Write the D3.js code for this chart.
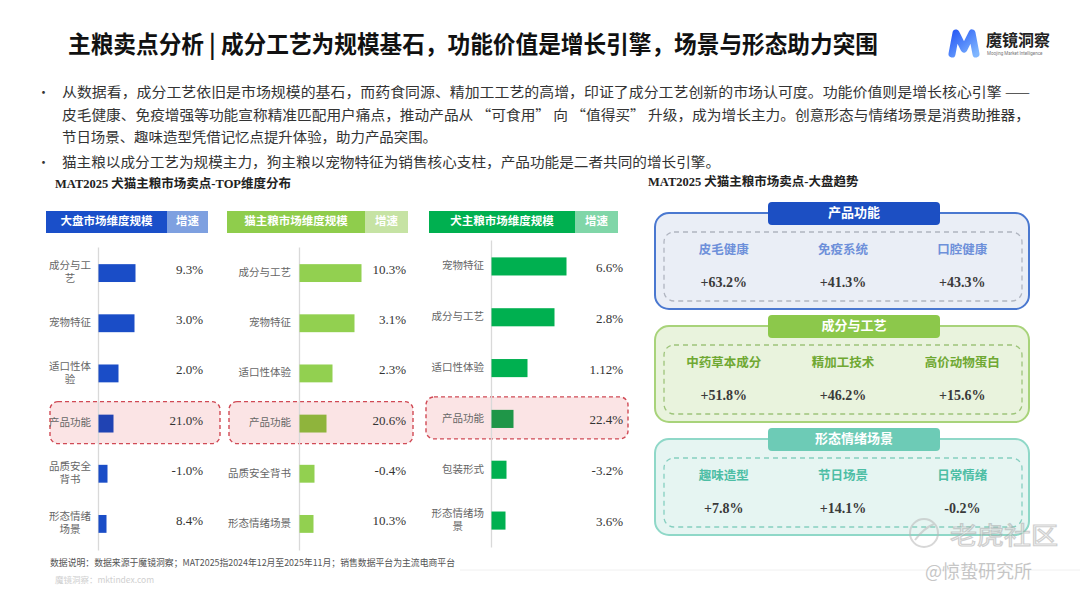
<!DOCTYPE html>
<html>
<head>
<meta charset="utf-8">
<script src="https://cdn.jsdelivr.net/npm/d3@7"></script>
<style>
  body { margin: 0; background: #fff; }
  svg { display: block; }
</style>
</head>
<body>
<svg id="chart" width="1080" height="596"></svg>
<script>
// ---- data ----
const totalCats = ["成分与工艺", "宠物特征", "适口性体验", "产品功能", "品质安全背书", "形态情绪场景"];
const totalSize = [18.5, 18, 10, 7.5, 4.5, 4];
const totalGrowth = [9.3, 3.0, 2.0, 21.0, -1.0, 8.4];

const catCats = ["成分与工艺", "宠物特征", "适口性体验", "产品功能", "品质安全背书", "形态情绪场景"];
const catSize = [31, 27.5, 16.5, 13.5, 7.5, 7];
const catGrowth = [10.3, 3.1, 2.3, 20.6, -0.4, 10.3];

const dogCats = ["宠物特征", "成分与工艺", "适口性体验", "产品功能", "包装形式", "形态情绪场景"];
const dogSize = [37.5, 31.5, 18, 11, 7.5, 7];
const dogGrowth = [6.6, 2.8, 1.12, 22.4, -3.2, 3.6];

const highlightCat = "产品功能";

const trendGroups = ["产品功能", "成分与工艺", "形态情绪场景"];
const trendItems = [
  ["皮毛健康", "免疫系统", "口腔健康"],
  ["中药草本成分", "精加工技术", "高价动物蛋白"],
  ["趣味造型", "节日场景", "日常情绪"]
];
const trendValues = [
  [63.2, 41.3, 43.3],
  [51.8, 46.2, 15.6],
  [7.8, 14.1, -0.2]
];

const bullets = [
  ["从数据看，成分工艺依旧是市场规模的基石，而药食同源、精加工工艺的高增，印证了成分工艺创新的市场认可度。功能价值则是增长核心引擎 ——",
   "皮毛健康、免疫增强等功能宣称精准匹配用户痛点，推动产品从 “可食用” 向 “值得买” 升级，成为增长主力。创意形态与情绪场景是消费助推器，",
   "节日场景、趣味造型凭借记忆点提升体验，助力产品突围。"],
  ["猫主粮以成分工艺为规模主力，狗主粮以宠物特征为销售核心支柱，产品功能是二者共同的增长引擎。"]
];

const CJK = "'Noto Sans CJK SC', sans-serif";
const SERIF = "'Liberation Serif', 'Noto Sans CJK SC', serif";

const pct = v => {
  const s = Math.abs(v * 10 - Math.round(v * 10)) < 1e-9 ? v.toFixed(1) : v.toFixed(2);
  return s + "%";
};
const signed = v => (v > 0 ? "+" : "") + v.toFixed(1) + "%";

const svg = d3.select("#chart");
svg.append("rect").attr("width", 1080).attr("height", 596).attr("fill", "#fff");

// ---- title ----
svg.append("text")
  .attr("x", 68).attr("y", 46)
  .attr("dominant-baseline", "middle")
  .attr("font-family", CJK).attr("font-weight", 700).attr("font-size", 24)
  .attr("fill", "#111")
  .attr("textLength", 810).attr("lengthAdjust", "spacingAndGlyphs")
  .text("主粮卖点分析 | 成分工艺为规模基石，功能价值是增长引擎，场景与形态助力突围");

// ---- logo ----
const defs = svg.append("defs");
const lg = defs.append("linearGradient").attr("id", "logoGrad")
  .attr("x1", "0%").attr("y1", "0%").attr("x2", "100%").attr("y2", "100%");
lg.append("stop").attr("offset", "0%").attr("stop-color", "#2a5cf5");
lg.append("stop").attr("offset", "100%").attr("stop-color", "#7fb6ff");
svg.append("path")
  .attr("d", "M952,54 L956,33 L964,49 L972,33 L976,54")
  .attr("fill", "none").attr("stroke", "url(#logoGrad)")
  .attr("stroke-width", 7).attr("stroke-linejoin", "round").attr("stroke-linecap", "round");
svg.append("text")
  .attr("x", 986).attr("y", 42).attr("dominant-baseline", "middle")
  .attr("font-family", CJK).attr("font-weight", 700).attr("font-size", 16).attr("fill", "#222")
  .text("魔镜洞察");
svg.append("text")
  .attr("x", 987).attr("y", 54).attr("dominant-baseline", "middle")
  .attr("font-family", "Roboto, sans-serif").attr("font-size", 4.5).attr("fill", "#777")
  .text("Moojing Market Intelligence");

// ---- bullets ----
const lineY = [[93, 116, 138], [163]];
const lineW = [[968, 968, 375], [658]];
bullets.forEach((lines, bi) => {
  svg.append("text")
    .attr("x", 37).attr("y", lineY[bi][0]).attr("dominant-baseline", "middle")
    .attr("font-family", CJK).attr("font-size", 13).attr("fill", "#333")
    .text("•");
  lines.forEach((ln, li) => {
    svg.append("text")
      .attr("x", 62).attr("y", lineY[bi][li]).attr("dominant-baseline", "middle")
      .attr("font-family", CJK).attr("font-size", 13.5).attr("fill", "#333")
      .attr("textLength", lineW[bi][li]).attr("lengthAdjust", "spacingAndGlyphs")
      .text(ln);
  });
});

// ---- section subtitles ----
svg.append("text")
  .attr("x", 55).attr("y", 185).attr("dominant-baseline", "middle")
  .attr("font-family", SERIF).attr("font-weight", 700).attr("font-size", 12.5).attr("fill", "#222")
  .text("MAT2025 犬猫主粮市场卖点-TOP维度分布");
svg.append("text")
  .attr("x", 648).attr("y", 183).attr("dominant-baseline", "middle")
  .attr("font-family", SERIF).attr("font-weight", 700).attr("font-size", 12.5).attr("fill", "#222")
  .text("MAT2025 犬猫主粮市场卖点-大盘趋势");

// ---- left: three bar panels ----
const x = d3.scaleLinear().domain([0, 40]).range([0, 80]);

const panels = [
  { title: "大盘市场维度规模", cats: totalCats, size: totalSize, growth: totalGrowth,
    axisX: 98, h0: 46, h1: 167, h2: 208, labelRight: 91, maxChars: 4, valueX: 203, valueDy: -2,
    yRange: [247, 550], box: [50, 220],
    head: "#1a4fc9", head2: "#7ea0e0", bar: "#1a4dc7", barHi: "#2043b3" },
  { title: "猫主粮市场维度规模", cats: catCats, size: catSize, growth: catGrowth,
    axisX: 299, h0: 227, h1: 365, h2: 408, labelRight: 291, maxChars: 6, valueX: 406, valueDy: -2,
    yRange: [247, 550], box: [229, 413],
    head: "#8fcd4c", head2: "#c6e3a4", bar: "#92d050", barHi: "#8fb43c" },
  { title: "犬主粮市场维度规模", cats: dogCats, size: dogSize, growth: dogGrowth,
    axisX: 491, h0: 429, h1: 575, h2: 618, labelRight: 484, maxChars: 5, valueX: 623, valueDy: 2.5,
    yRange: [240, 547], box: [426, 628],
    head: "#00b050", head2: "#80d6a8", bar: "#00b050", barHi: "#1f9648" }
];

panels.forEach(p => {
  const g = svg.append("g");
  // header
  g.append("rect").attr("x", p.h0).attr("y", 211).attr("width", p.h1 - p.h0).attr("height", 22).attr("fill", p.head);
  g.append("rect").attr("x", p.h1).attr("y", 211).attr("width", p.h2 - p.h1).attr("height", 22).attr("fill", p.head2);
  g.append("text").attr("x", (p.h0 + p.h1) / 2).attr("y", 222).attr("text-anchor", "middle")
    .attr("dominant-baseline", "middle").attr("font-family", CJK).attr("font-weight", 700)
    .attr("font-size", 11.5).attr("fill", "#fff").text(p.title);
  g.append("text").attr("x", (p.h1 + p.h2) / 2).attr("y", 222).attr("text-anchor", "middle")
    .attr("dominant-baseline", "middle").attr("font-family", CJK).attr("font-weight", 700)
    .attr("font-size", 11.5).attr("fill", "#fff").text("增速");

  const y = d3.scaleBand().domain(p.cats).range(p.yRange).paddingInner(0.644).paddingOuter(0.342);
  const bw = y.bandwidth();

  // highlight box
  const hy = y(highlightCat) + bw / 2;
  g.append("rect")
    .attr("x", p.box[0]).attr("y", hy - 22).attr("width", p.box[1] - p.box[0]).attr("height", 42)
    .attr("rx", 8).attr("fill", "#fbe4e5").attr("stroke", "#d04a55")
    .attr("stroke-width", 1.4).attr("stroke-dasharray", "4,3");

  // axis line
  g.append("g").attr("transform", `translate(${p.axisX},0)`)
    .call(d3.axisLeft(y).tickSize(0).tickFormat(""))
    .call(a => a.select(".domain").attr("stroke", "#d9d9d9").attr("stroke-width", 1.3));

  // bars
  g.selectAll("rect.bar").data(p.cats).join("rect").attr("class", "bar")
    .attr("x", p.axisX + 0.5).attr("y", d => y(d))
    .attr("width", (d, i) => x(p.size[i])).attr("height", bw)
    .attr("fill", d => d === highlightCat ? p.barHi : p.bar);

  // category labels
  p.cats.forEach(c => {
    const lines = [];
    for (let i = 0; i < c.length; i += p.maxChars) lines.push(c.slice(i, i + p.maxChars));
    const cy = y(c) + bw / 2;
    const fs = 10.5;
    const t = g.append("text").attr("font-family", CJK).attr("font-size", fs).attr("fill", "#666");
    if (lines.length === 1) {
      t.attr("x", p.labelRight).attr("y", cy).attr("text-anchor", "end")
        .attr("dominant-baseline", "middle").text(c);
    } else {
      const cx = p.labelRight - lines[0].length * fs / 2;
      lines.forEach((ln, i) => {
        t.append("tspan").attr("x", cx).attr("y", cy + (i - (lines.length - 1) / 2) * 13)
          .attr("text-anchor", "middle").attr("dominant-baseline", "middle").text(ln);
      });
    }
  });

  // growth values
  g.selectAll("text.val").data(p.growth).join("text").attr("class", "val")
    .attr("x", p.valueX).attr("y", (d, i) => y(p.cats[i]) + bw / 2 + p.valueDy)
    .attr("text-anchor", "end").attr("dominant-baseline", "middle")
    .attr("font-family", SERIF).attr("font-size", 13).attr("fill", "#333")
    .text(d => pct(d));
});

// ---- footer ----
svg.append("text").attr("x", 50).attr("y", 563).attr("dominant-baseline", "middle")
  .attr("font-family", CJK).attr("font-size", 9.5).attr("fill", "#555")
  .attr("textLength", 405).attr("lengthAdjust", "spacingAndGlyphs")
  .text("数据说明：数据来源于魔镜洞察；MAT2025指2024年12月至2025年11月；销售数据平台为主流电商平台");
svg.append("text").attr("x", 55).attr("y", 581).attr("dominant-baseline", "middle")
  .attr("font-family", CJK).attr("font-size", 8.5).attr("fill", "#d0d0d0")
  .text("魔镜洞察：mktindex.com");
svg.append("line").attr("x1", 460).attr("x2", 1080).attr("y1", 570).attr("y2", 570)
  .attr("stroke", "#f0f0f0").attr("stroke-width", 1);

// ---- right: trend cards ----
const cardStyle = [
  { stroke: "#4a78d0", fill: "#eaeef6", tab: "#1c4fc3", label: "#6e90da", dash: "#b0b5c0" },
  { stroke: "#a8d37a", fill: "#e9f3dd", tab: "#8cc84b", label: "#6fa832", dash: "#9dc47a" },
  { stroke: "#8fd8c8", fill: "#e6f5f2", tab: "#6dcbb6", label: "#4dbea5", dash: "#86cfc0" }
];
const cardTop = d3.scalePoint().domain(trendGroups).range([213, 439]);
const colX = d3.scaleBand().domain([0, 1, 2]).range([664, 1022]);

trendGroups.forEach((grp, gi) => {
  const st = cardStyle[gi];
  const top = cardTop(grp);
  const g = svg.append("g");
  g.append("rect").attr("x", 655).attr("y", top).attr("width", 374).attr("height", 96)
    .attr("rx", 14).attr("fill", st.fill).attr("stroke", st.stroke).attr("stroke-width", 2);
  g.append("rect").attr("x", 664).attr("y", top + 19).attr("width", 358).attr("height", 69)
    .attr("rx", 10).attr("fill", "none").attr("stroke", st.dash)
    .attr("stroke-width", 1.3).attr("stroke-dasharray", "5,4");
  g.append("rect").attr("x", 768).attr("y", top - 11).attr("width", 172).attr("height", 23)
    .attr("rx", 4).attr("fill", st.tab);
  g.append("text").attr("x", 854).attr("y", top + 0.5).attr("text-anchor", "middle")
    .attr("dominant-baseline", "middle").attr("font-family", CJK).attr("font-weight", 700)
    .attr("font-size", 13).attr("fill", "#fff").text(grp);

  g.selectAll("text.lbl").data(trendItems[gi]).join("text").attr("class", "lbl")
    .attr("x", (d, i) => colX(i) + colX.bandwidth() / 2).attr("y", top + 38)
    .attr("text-anchor", "middle").attr("dominant-baseline", "middle")
    .attr("font-family", CJK).attr("font-weight", 700).attr("font-size", 12.5).attr("fill", st.label)
    .text(d => d);
  g.selectAll("text.num").data(trendValues[gi]).join("text").attr("class", "num")
    .attr("x", (d, i) => colX(i) + colX.bandwidth() / 2).attr("y", top + 71)
    .attr("text-anchor", "middle").attr("dominant-baseline", "middle")
    .attr("font-family", SERIF).attr("font-weight", 700).attr("font-size", 14).attr("fill", "#3a3a3a")
    .text(d => signed(d));
});

// ---- watermark ----
const wm = svg.append("g").attr("opacity", 0.55);
wm.append("circle").attr("cx", 924).attr("cy", 533).attr("r", 14)
  .attr("fill", "none").attr("stroke", "#b8b8b8").attr("stroke-width", 2);
wm.append("path").attr("d", "M915,540 Q924,528 934,524").attr("fill", "none")
  .attr("stroke", "#b8b8b8").attr("stroke-width", 2);
wm.append("text").attr("x", 950).attr("y", 537).attr("dominant-baseline", "middle")
  .attr("font-family", CJK).attr("font-size", 24).attr("fill", "#fff")
  .attr("stroke", "#aaa").attr("stroke-width", 1.2)
  .attr("textLength", 108).attr("lengthAdjust", "spacingAndGlyphs").text("老虎社区");
wm.append("text").attr("x", 925).attr("y", 573).attr("dominant-baseline", "middle")
  .attr("font-family", CJK).attr("font-size", 18).attr("fill", "#999").text("@惊蛰研究所");
</script>
</body>
</html>
